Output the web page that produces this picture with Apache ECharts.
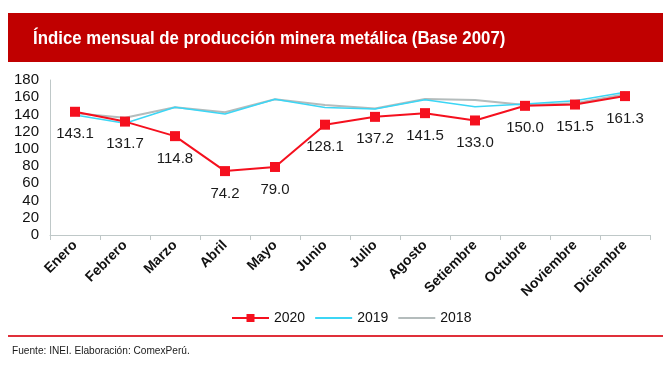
<!DOCTYPE html>
<html><head><meta charset="utf-8">
<script src="https://cdn.jsdelivr.net/npm/echarts@6/dist/echarts.min.js"></script>
<style>html,body{margin:0;padding:0;background:#fff}#c{width:667px;height:370px}</style>
</head><body><div id="c"></div>
<script>
const months = ['Enero','Febrero','Marzo','Abril','Mayo','Junio','Julio','Agosto','Setiembre','Octubre','Noviembre','Diciembre'];
const v2020 = [143.1,131.7,114.8,74.2,79.0,128.1,137.2,141.5,133.0,150.0,151.5,161.3];
const v2019 = [139.4,129.7,148.3,140.5,157.6,148,146.3,157,149,152,156,165.7];
const v2018 = [141.3,136.2,148.3,142.5,157.6,151,147,158,156.8,151,153,163.4];
const yTicks = {min:0,max:180,interval:20};
const title = 'Índice mensual de producción minera metálica (Base 2007)';
const source = 'Fuente: INEI. Elaboración: ComexPerú.';
const FONT = '"Liberation Sans",Arial,sans-serif';
const chart = echarts.init(document.getElementById('c'));
chart.setOption({
  animation:false,
  backgroundColor:'#fff',
  graphic:[
    {type:'rect',shape:{x:8,y:13,width:655,height:49},style:{fill:'#c00000'}},
    {type:'text',x:33,y:30,scaleX:0.935,style:{text:title,fill:'#fff',font:'bold 18px '+FONT}},
    {type:'rect',shape:{x:8,y:335,width:655,height:2},style:{fill:'#e0303a'}},
    {type:'text',x:12,y:345,scaleX:0.92,style:{text:source,fill:'#1a1a1a',font:'11px '+FONT}}
  ],
  grid:{left:50,right:17,top:80,bottom:135,containLabel:false},
  legend:{
    top:306,left:226,itemWidth:37,itemHeight:10,itemGap:9,
    textStyle:{fontFamily:FONT,fontSize:14,color:'#111'},
    data:[
      {name:'2020'},
      {name:'2019',itemStyle:{color:'transparent',borderColor:'transparent'}},
      {name:'2018',itemStyle:{color:'transparent',borderColor:'transparent'}}
    ]
  },
  xAxis:{
    type:'category',data:months,boundaryGap:true,
    axisLine:{lineStyle:{color:'#bfc8c8',width:1}},
    axisTick:{show:true,length:5,lineStyle:{color:'#bfc8c8'}},
    axisLabel:{rotate:45,fontFamily:FONT,fontWeight:'bold',fontSize:14,color:'#111',margin:8,interval:0}
  },
  yAxis:{
    type:'value',min:yTicks.min,max:yTicks.max,interval:yTicks.interval,
    axisLine:{show:true,lineStyle:{color:'#bfc8c8'}},
    axisTick:{show:false},
    splitLine:{show:false},
    axisLabel:{fontFamily:FONT,fontSize:15,color:'#111',margin:11}
  },
  series:[
    {name:'2018',type:'line',data:v2018,symbol:'none',lineStyle:{color:'#b4bcbc',width:2},itemStyle:{color:'#b4bcbc'},z:1},
    {name:'2019',type:'line',data:v2019,symbol:'none',lineStyle:{color:'#3cd6f5',width:1.5},itemStyle:{color:'#3cd6f5'},z:2},
    {name:'2020',type:'line',data:v2020,symbol:'rect',symbolSize:10,
     lineStyle:{color:'#f5101e',width:2},itemStyle:{color:'#f5101e'},z:3,
     label:{show:true,position:'bottom',distance:10,formatter:p=>p.value.toFixed(1),fontFamily:FONT,fontSize:15,color:'#1a1a1a'}}
  ]
});
</script></body></html>
